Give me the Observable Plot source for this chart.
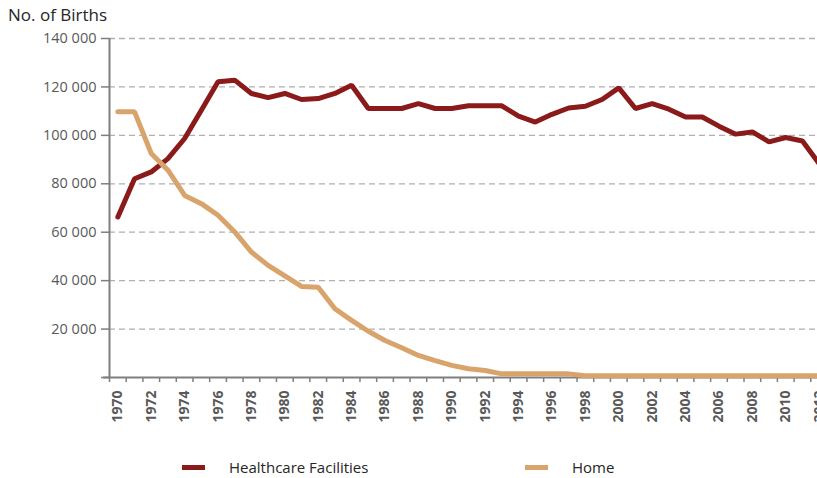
<!DOCTYPE html>
<html>
<head>
<meta charset="utf-8">
<script src="https://cdn.jsdelivr.net/npm/d3@7"></script>
<script src="https://cdn.jsdelivr.net/npm/@observablehq/plot@0.6"></script>
<style>
  html, body { margin: 0; padding: 0; background: #fff; overflow: hidden; width: 817px; height: 478px; }
  #wrap { position: relative; width: 817px; height: 478px; overflow: hidden; font-family: "Open Sans", sans-serif; }
  #title { position: absolute; left: 8px; top: 3px; font-size: 17px; color: #262626; }
  #chart { position: absolute; left: 0; top: 0; width: 840px; }
  #chart svg { max-width: none !important; width: 840px; height: 430px; }
  .leg { position: absolute; top: 457px; font-size: 15px; color: #262626; display: flex; align-items: center; }
  .sw { display: inline-block; width: 23px; height: 5px; margin-right: 24px; }
</style>
</head>
<body>
<div id="wrap">
  <div id="chart"></div>
  <div id="title">No. of Births</div>
  <div class="leg" style="left:182px"><span class="sw" style="background:#8b1a1a"></span>Healthcare Facilities</div>
  <div class="leg" style="left:525px"><span class="sw" style="background:#d9a46c"></span>Home</div>
</div>
<script>
const years = [1970,1971,1972,1973,1974,1975,1976,1977,1978,1979,1980,1981,1982,1983,1984,1985,1986,1987,1988,1989,1990,1991,1992,1993,1994,1995,1996,1997,1998,1999,2000,2001,2002,2003,2004,2005,2006,2007,2008,2009,2010,2011,2012];
const healthcare = [66300,82100,84900,90400,98700,110400,122100,122800,117300,115600,117300,114800,115200,117300,120700,111100,111100,111100,113100,111100,111100,112200,112200,112200,107900,105500,108700,111300,112000,114800,119600,111100,113100,110800,107600,107600,103800,100500,101400,97300,99100,97700,88300];
const home = [109700,109700,92500,85600,75200,71800,67000,60100,51800,46300,42000,37600,37300,28400,23600,19100,15300,12300,9100,7000,5000,3600,2900,1500,1500,1500,1500,1500,700,700,700,700,700,700,700,700,700,700,700,700,700,700,700];
const yTicks = [0,20000,40000,60000,80000,100000,120000,140000];
const xLabels = [1970,1972,1974,1976,1978,1980,1982,1984,1986,1988,1990,1992,1994,1996,1998,2000,2002,2004,2006,2008,2010,2012];
const seriesNames = ["Healthcare Facilities","Home"];
const seriesColors = ["#8b1a1a","#d9a46c"];

const rows = [];
years.forEach((yr,i) => {
  rows.push({year: yr, value: healthcare[i], series: seriesNames[0]});
  rows.push({year: yr, value: home[i], series: seriesNames[1]});
});
const x0 = years[0] - 0.5, x1 = years[years.length-1] + 0.5;
const bounds = years.map(y => y - 0.5).concat([x1]);
const fmt = v => v === 0 ? "" : d3.format(",")(v).replace(/,/g, " ");

const chart = Plot.plot({
  width: 840, height: 430,
  marginLeft: 109, marginRight: 13, marginTop: 38, marginBottom: 53,
  style: {fontFamily: "Open Sans, sans-serif", background: "transparent", maxWidth: "none"},
  x: {domain: [x0, x1]},
  y: {domain: [0, 140000]},
  color: {domain: seriesNames, range: seriesColors},
  marks: [
    Plot.ruleY(yTicks.filter(d => d > 0), {x1: x0, x2: x1, stroke: "#b0b0b0", strokeWidth: 1.3, strokeDasharray: "6,4"}),
    Plot.axisY({ticks: yTicks, tickSize: 8, tickPadding: 5, tickFormat: fmt, fontSize: 14.5, stroke: "#7f7f7f", fill: "#595959", strokeWidth: 1.5, label: null}),
    Plot.axisX({ticks: bounds, tickSize: 5, tickFormat: () => "", stroke: "#7f7f7f", strokeWidth: 1.5, label: null}),
    Plot.text(xLabels, {x: d => d, frameAnchor: "bottom", text: d => String(d), rotate: -90, textAnchor: "end", lineAnchor: "middle", dy: 13, fontSize: 14, fontWeight: "bold", fill: "#595959"}),
    Plot.ruleX([x0], {y1: 0, y2: 140000, stroke: "#7f7f7f", strokeWidth: 2}),
    Plot.ruleY([0], {x1: x0 - 0.35, x2: x1, stroke: "#7f7f7f", strokeWidth: 2}),
    Plot.line(rows, {x: "year", y: "value", stroke: "series", z: "series", strokeWidth: 5, strokeLinejoin: "miter"})
  ]
});
document.getElementById("chart").appendChild(chart);
</script>
</body>
</html>
